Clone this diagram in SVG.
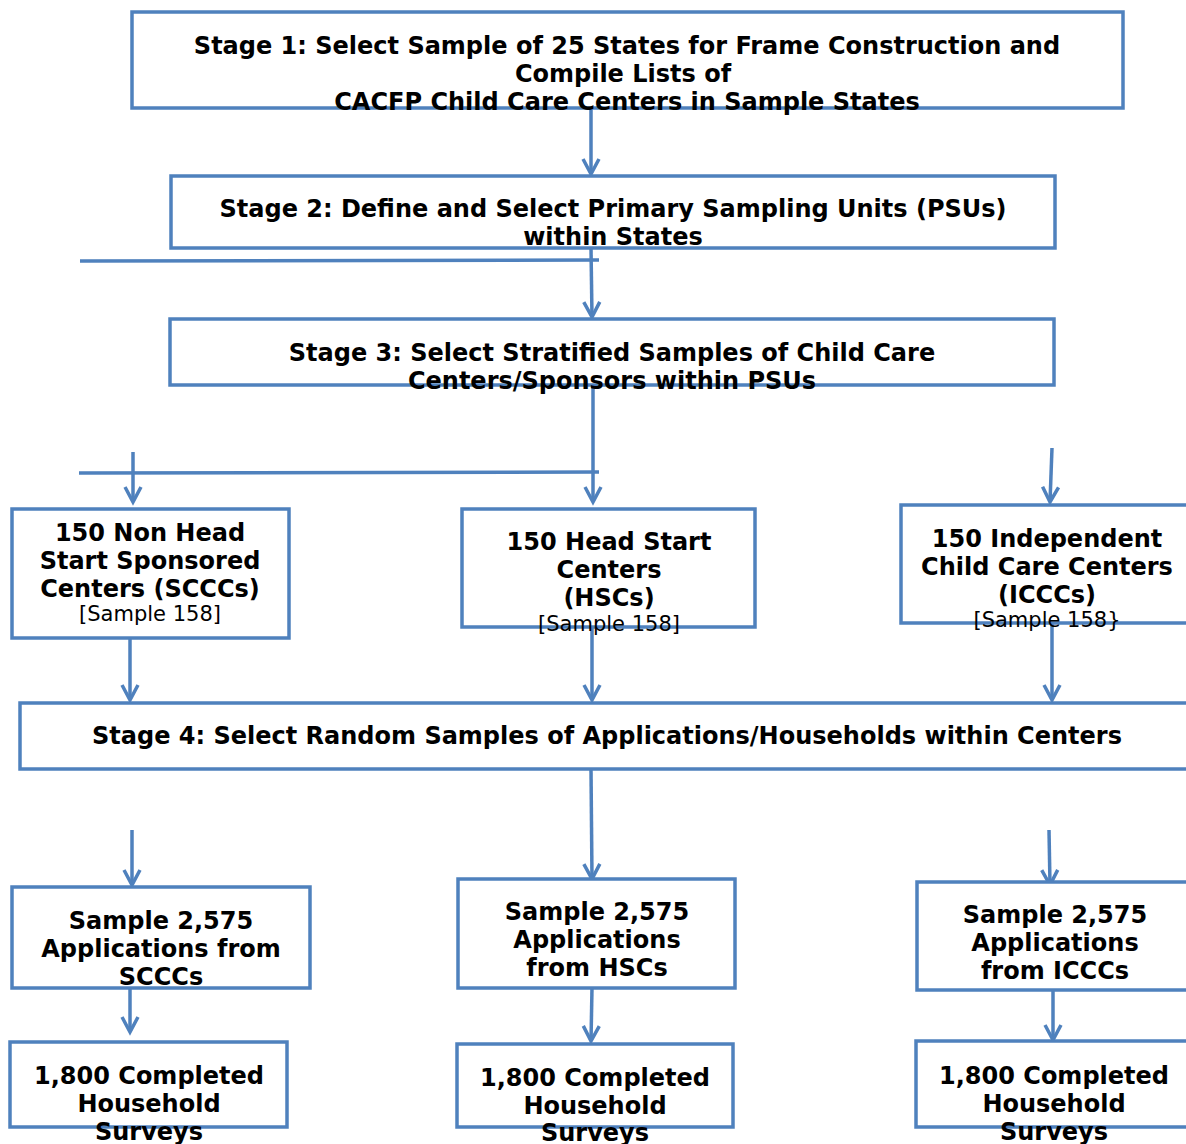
<svg xmlns="http://www.w3.org/2000/svg" width="1186" height="1144" viewBox="0 0 1186 1144">
<style>
.box{fill:#fff;stroke:#4F81BD;stroke-width:3.5}
.t{font-family:"DejaVu Sans",sans-serif;font-weight:bold;font-size:24px;text-anchor:middle;fill:#000}
.s{font-family:"DejaVu Sans",sans-serif;font-size:21px;text-anchor:middle;fill:#000}
.c{stroke:#4F81BD;stroke-width:3.5;fill:none}
</style>
<defs>
<marker id="ah" markerUnits="userSpaceOnUse" markerWidth="20" markerHeight="20" viewBox="-16 -10 20 20" refX="0" refY="0" orient="auto">
<path d="M -15 -8 L 0 0 L -15 8" fill="none" stroke="#4F81BD" stroke-width="3.5"/>
</marker>
</defs>
<rect width="1186" height="1144" fill="#fff"/>
<g id="connectors">
<line class="c" x1="591" y1="108" x2="591" y2="174" marker-end="url(#ah)"/>
<line class="c" x1="80" y1="261" x2="599" y2="260"/>
<line class="c" x1="591" y1="248" x2="592" y2="317" marker-end="url(#ah)"/>
<line class="c" x1="79" y1="473" x2="599" y2="472"/>
<line class="c" x1="593" y1="385" x2="593" y2="502" marker-end="url(#ah)"/>
<line class="c" x1="133" y1="452" x2="133" y2="502" marker-end="url(#ah)"/>
<line class="c" x1="1052" y1="448" x2="1050" y2="502" marker-end="url(#ah)"/>
<line class="c" x1="130" y1="638" x2="130" y2="700" marker-end="url(#ah)"/>
<line class="c" x1="592" y1="627" x2="592" y2="700" marker-end="url(#ah)"/>
<line class="c" x1="1052" y1="623" x2="1052" y2="700" marker-end="url(#ah)"/>
<line class="c" x1="591" y1="769" x2="592" y2="879" marker-end="url(#ah)"/>
<line class="c" x1="132" y1="830" x2="132" y2="885" marker-end="url(#ah)"/>
<line class="c" x1="1049" y1="830" x2="1050" y2="885" marker-end="url(#ah)"/>
<line class="c" x1="130" y1="988" x2="130" y2="1032" marker-end="url(#ah)"/>
<line class="c" x1="592" y1="988" x2="591" y2="1041" marker-end="url(#ah)"/>
<line class="c" x1="1053" y1="990" x2="1053" y2="1040" marker-end="url(#ah)"/>
</g>
<g id="stage1">
<rect class="box" x="132" y="12" width="991" height="96"/>
<text class="t" x="627" y="54">Stage 1: Select Sample of 25 States for Frame Construction and</text>
<text class="t" x="623" y="82">Compile Lists of</text>
<text class="t" x="627" y="110">CACFP Child Care Centers in Sample States</text>
</g>
<g id="stage2">
<rect class="box" x="171" y="176" width="884" height="72"/>
<text class="t" x="613" y="217">Stage 2: Define and Select Primary Sampling Units (PSUs)</text>
<text class="t" x="613" y="245">within States</text>
</g>
<g id="stage3">
<rect class="box" x="170" y="319" width="884" height="66"/>
<text class="t" x="612" y="361">Stage 3: Select Stratified Samples of Child Care</text>
<text class="t" x="612" y="389">Centers/Sponsors within PSUs</text>
</g>
<g id="sccc">
<rect class="box" x="12" y="509" width="277" height="129"/>
<text class="t" x="150" y="541">150 Non Head</text>
<text class="t" x="150" y="569">Start Sponsored</text>
<text class="t" x="150" y="597">Centers (SCCCs)</text>
<text class="s" x="150" y="621">[Sample 158]</text>
</g>
<g id="hsc">
<rect class="box" x="462" y="509" width="293" height="118"/>
<text class="t" x="609" y="550">150 Head Start</text>
<text class="t" x="609" y="578">Centers</text>
<text class="t" x="609" y="606">(HSCs)</text>
<text class="s" x="609" y="631">[Sample 158]</text>
</g>
<g id="iccc">
<rect class="box" x="901" y="505" width="295" height="118"/>
<text class="t" x="1047" y="547">150 Independent</text>
<text class="t" x="1047" y="575">Child Care Centers</text>
<text class="t" x="1047" y="603">(ICCCs)</text>
<text class="s" x="1047" y="627">[Sample 158}</text>
</g>
<g id="stage4">
<rect class="box" x="20" y="703" width="1176" height="66"/>
<text class="t" x="607" y="744">Stage 4: Select Random Samples of Applications/Households within Centers</text>
</g>
<g id="apps-sccc">
<rect class="box" x="12" y="887" width="298" height="101"/>
<text class="t" x="161" y="929">Sample 2,575</text>
<text class="t" x="161" y="957">Applications from</text>
<text class="t" x="161" y="985">SCCCs</text>
</g>
<g id="apps-hsc">
<rect class="box" x="458" y="879" width="277" height="109"/>
<text class="t" x="597" y="920">Sample 2,575</text>
<text class="t" x="597" y="948">Applications</text>
<text class="t" x="597" y="976">from HSCs</text>
</g>
<g id="apps-iccc">
<rect class="box" x="917" y="882" width="279" height="108"/>
<text class="t" x="1055" y="923">Sample 2,575</text>
<text class="t" x="1055" y="951">Applications</text>
<text class="t" x="1055" y="979">from ICCCs</text>
</g>
<g id="surveys-sccc">
<rect class="box" x="10" y="1042" width="277" height="85"/>
<text class="t" x="149" y="1084">1,800 Completed</text>
<text class="t" x="149" y="1112">Household</text>
<text class="t" x="149" y="1140">Surveys</text>
</g>
<g id="surveys-hsc">
<rect class="box" x="457" y="1044" width="276" height="83"/>
<text class="t" x="595" y="1086">1,800 Completed</text>
<text class="t" x="595" y="1114">Household</text>
<text class="t" x="595" y="1141">Surveys</text>
</g>
<g id="surveys-iccc">
<rect class="box" x="916" y="1041" width="280" height="86"/>
<text class="t" x="1054" y="1084">1,800 Completed</text>
<text class="t" x="1054" y="1112">Household</text>
<text class="t" x="1054" y="1140">Surveys</text>
</g>
</svg>
